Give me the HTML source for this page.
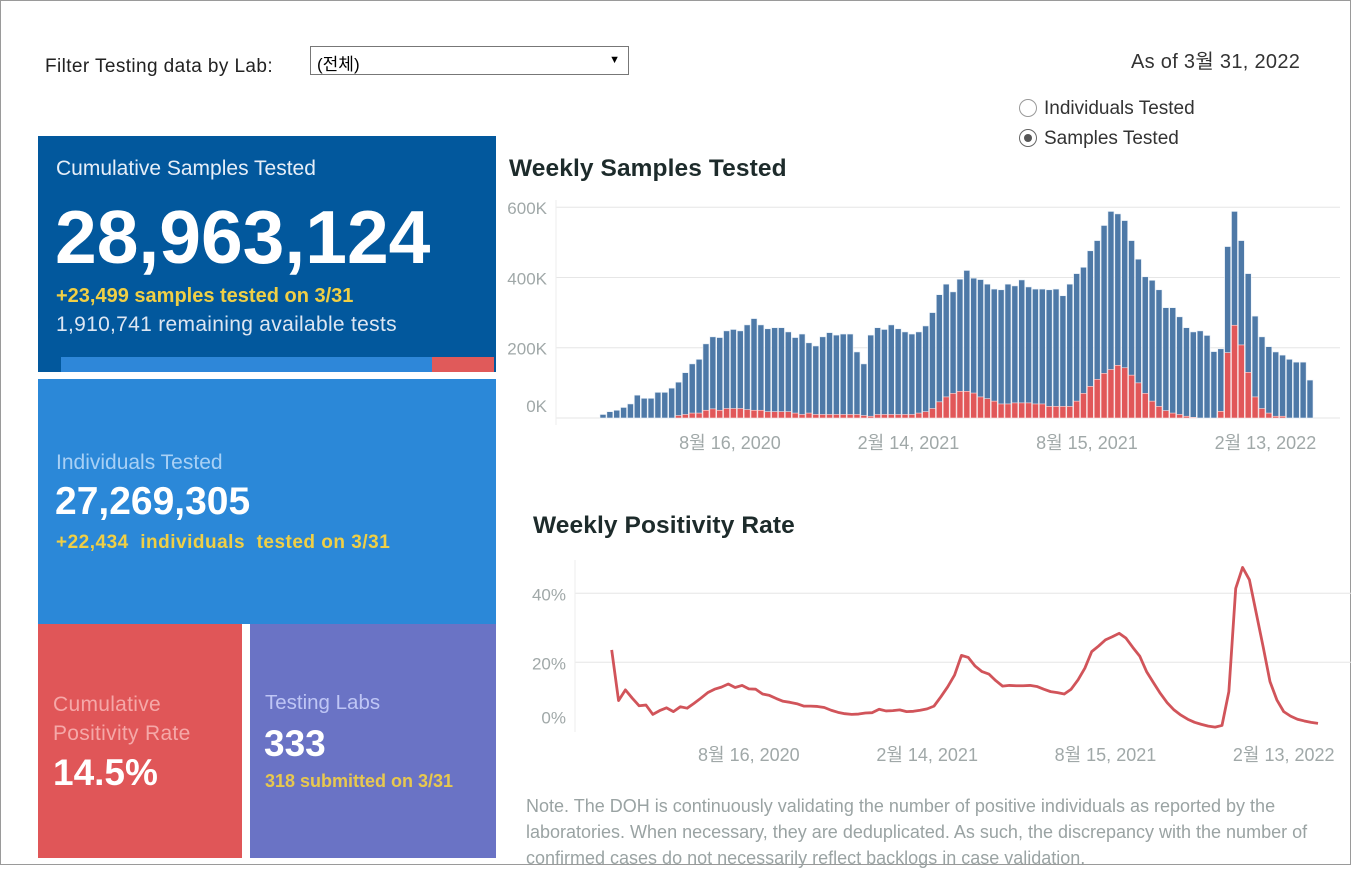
<!DOCTYPE html>
<html><head><meta charset="utf-8">
<style>
*{box-sizing:border-box;margin:0;padding:0}
body{width:1351px;height:865px;position:relative;background:#fff;font-family:"Liberation Sans","Noto Sans CJK KR",sans-serif;overflow:hidden}
#frame{position:absolute;left:0;top:0;width:1351px;height:865px;border:1px solid #9a9a9a}
.abs{position:absolute;white-space:nowrap}
.box{position:absolute}
</style></head><body>
<div id="frame"></div>
<div class="abs" style="left:45px;top:56px;font-size:19px;letter-spacing:0.4px;color:#222">Filter Testing data by Lab:</div>
<div class="abs" style="left:310px;top:46px;width:319px;height:29px;border:1px solid #777;font-size:17px;padding:3px 6px;color:#000">(전체)<span style="position:absolute;right:8px;top:7px;font-size:11px">▼</span></div>
<div class="abs" style="left:1131px;top:45px;font-size:20px;letter-spacing:0.3px;color:#333">As of 3월 31, 2022</div>
<div class="abs" style="left:1019px;top:98px;font-size:19px;color:#333"><span style="display:inline-block;width:18px;height:18px;border:1px solid #999;border-radius:50%;vertical-align:-3px;margin-right:7px"></span>Individuals Tested</div>
<div class="abs" style="left:1019px;top:128px;font-size:19px;color:#333"><span style="display:inline-block;width:18px;height:18px;border:1px solid #666;border-radius:50%;vertical-align:-3px;margin-right:7px;position:relative"><span style="position:absolute;left:4px;top:4px;width:8px;height:8px;border-radius:50%;background:#555"></span></span>Samples Tested</div>

<div class="box" style="left:38px;top:136px;width:458px;height:236px;background:#02589d">
 <div class="abs" style="left:18px;top:21px;font-size:21px;color:#e6eef8">Cumulative Samples Tested</div>
 <div class="abs" style="left:17px;top:58px;font-size:75px;font-weight:bold;color:#fff">28,963,124</div>
 <div class="abs" style="left:18px;top:149px;font-size:20px;font-weight:bold;color:#f0cf45">+23,499 samples tested on 3/31</div>
 <div class="abs" style="left:18px;top:177px;font-size:21px;letter-spacing:0.3px;color:#dde6f2">1,910,741 remaining available tests</div>
 <div class="abs" style="left:23px;top:221px;width:371px;height:15px;background:#2e87d9"></div>
 <div class="abs" style="left:394px;top:221px;width:62px;height:15px;background:#e05a5a"></div>
</div>
<div class="box" style="left:38px;top:379px;width:458px;height:245px;background:#2b88d8">
 <div class="abs" style="left:18px;top:72px;font-size:21px;color:#a8d0f5">Individuals Tested</div>
 <div class="abs" style="left:17px;top:101px;font-size:39px;font-weight:bold;color:#fff">27,269,305</div>
 <div class="abs" style="left:18px;top:153px;font-size:19px;letter-spacing:0.5px;font-weight:bold;color:#f0cf45">+22,434 &nbsp;individuals &nbsp;tested on 3/31</div>
</div>
<div class="box" style="left:38px;top:624px;width:204px;height:234px;background:#e05658">
 <div class="abs" style="left:15px;top:66px;font-size:21px;letter-spacing:0.3px;line-height:29px;color:#f5a8a8;white-space:normal;width:185px">Cumulative Positivity Rate</div>
 <div class="abs" style="left:15px;top:128px;font-size:37px;font-weight:bold;color:#fff">14.5%</div>
</div>
<div class="box" style="left:250px;top:624px;width:246px;height:234px;background:#6a73c5">
 <div class="abs" style="left:15px;top:67px;font-size:20.5px;color:#bfc6f5">Testing Labs</div>
 <div class="abs" style="left:14px;top:99px;font-size:37px;font-weight:bold;color:#fff">333</div>
 <div class="abs" style="left:15px;top:147px;font-size:18px;font-weight:bold;color:#e8c84e">318 submitted on 3/31</div>
</div>

<div class="abs" style="left:509px;top:155px;font-size:24.5px;letter-spacing:0.1px;font-weight:bold;color:#1d2b2b">Weekly Samples Tested</div>
<div class="abs" style="left:533px;top:512px;font-size:24.5px;letter-spacing:0.1px;font-weight:bold;color:#1d2b2b">Weekly Positivity Rate</div>
<div class="abs" style="left:526px;top:793px;font-size:18px;line-height:26px;color:#9aa3a3;white-space:normal;width:830px">Note. The DOH is continuously validating the number of positive individuals as reported by the laboratories. When necessary, they are deduplicated. As such, the discrepancy with the number of confirmed cases do not necessarily reflect backlogs in case validation.</div>

<svg id="chart" width="1351" height="865" style="position:absolute;left:0;top:0"></svg>
<script>
const totalSamples=[10,18,22,30,40,65,56,56,73,73,85,102,129,154,167,211,231,229,248,252,248,265,283,265,254,257,257,245,229,239,214,205,231,243,236,239,239,188,154,236,257,252,265,254,245,239,245,262,300,351,381,359,395,
420,398,394,381,367,365,381,376,393,373,367,367,365,367,348,381,411,429,476,505,548,588,581,562,505,452,402,392,365,314,314,288,257,245,248,235,189,197,488,588,505,411,290,231,203,188,179,167,159,159,108];
const positiveSamples=[0,0,0,0,0,0,0,0,0,0,0,7,10,14,14,22,26,22,27,27,27,24,22,22,18,18,18,18,14,10,14,10,10,10,10,10,10,10,7,5,10,10,10,10,10,10,14,18,27,46,60,70,76,
76,71,60,55,48,40,40,43,43,43,40,40,33,33,33,33,48,70,90,110,127,138,150,143,122,100,70,48,33,21,14,10,5,2,0,0,0,19,186,264,208,130,60,27,14,5,5,0,0,0,0];
const positivityRate=[23.6,8.9,12,9.6,7.4,7.6,4.9,6,6.8,5.7,7.1,6.7,8.1,9.6,11.2,12.2,12.8,13.7,12.7,13.3,12.3,12.2,10.8,10.4,9.5,8.7,8.4,8,7.3,7.3,7.2,6.9,6.1,5.5,5.1,4.9,5,5.3,5.4,6.4,5.9,6,6.2,5.7,5.8,6.1,6.5,7.3,10,12.9,16.3,22,21.4,18.9,17.3,16.6,14.7,13.1,13.3,13.2,13.2,13.3,13,12.2,11.5,11.2,10.8,12.2,14.9,18.3,23.1,24.7,26.5,27.4,28.4,27,24.3,21.8,17.3,14.1,11,8.3,6.2,4.7,3.5,2.6,2,1.5,1.2,1.7,11.5,41.4,47.5,43.9,34.2,24.5,14.4,9.1,5.7,4.4,3.5,3,2.6,2.3];
const sampleTicks=[0,200,400,600];
const sampleTickLabels=["0K","200K","400K","600K"];
const rateTicks=[0,20,40];
const rateTickLabels=["0%","20%","40%"];
const dateTickLabels=["8월 16, 2020","2월 14, 2021","8월 15, 2021","2월 13, 2022"];
const dateTickWeeks=[18.5,44.5,70.5,96.5];

const svg=document.getElementById('chart');
const NS='http://www.w3.org/2000/svg';
function mk(t,a){const e=document.createElementNS(NS,t);for(const k in a)e.setAttribute(k,a[k]);svg.appendChild(e);return e;}
const n=totalSamples.length;
const bx=i=>603+i*(707/(n-1));
const by=v=>418-v*0.3513;
const bw=6;
sampleTicks.forEach((t,k)=>{
  const g=mk('line',{x1:556,x2:1340,y1:by(t),y2:by(t),stroke:'#e6e6e6','stroke-width':1});
  
  
  const ty=t===0?by(t)-6:by(t)+7;
  const tx=mk('text',{x:547,y:ty,'text-anchor':'end','font-size':17,fill:'#a0a8a8','font-family':'Liberation Sans, sans-serif'});
  tx.textContent=sampleTickLabels[k];
  
  
});
mk('line',{x1:556,x2:556,y1:200,y2:425,stroke:'#eeeeee'});
totalSamples.forEach((v,i)=>{
  const r=mk('rect',{x:bx(i)-bw/2,y:by(v),width:bw,height:by(0)-by(v),fill:'#4e79a7',stroke:'#e8f0f8','stroke-width':0.6});
  
  
  const p=positiveSamples[i];
  if(p>0){
    const q=mk('rect',{x:bx(i)-bw/2,y:by(p),width:bw,height:by(0)-by(p),fill:'#e15759',stroke:'#fbe0e0','stroke-width':0.6});
    
    
  }
});
dateTickLabels.forEach((l,k)=>{
  const t=mk('text',{x:bx(dateTickWeeks[k]),y:449,'text-anchor':'middle','font-size':18,fill:'#a0a8a8','font-family':'Liberation Sans, Noto Sans CJK KR, sans-serif'});
  t.textContent=l;
  
  
});
const lx=i=>611.7+i*(706.3/(n-1));
const ly=v=>731.3-v*3.45;
rateTicks.forEach((t,k)=>{
  if(t>0){
    const g=mk('line',{x1:575,x2:1351,y1:ly(t),y2:ly(t),stroke:'#e6e6e6'});
    
    
  }
  const ty=t===0?ly(t)-8:ly(t)+7;
  const tx=mk('text',{x:566,y:ty,'text-anchor':'end','font-size':17,fill:'#a0a8a8','font-family':'Liberation Sans, sans-serif'});
  tx.textContent=rateTickLabels[k];
  
  
});
mk('line',{x1:575,x2:575,y1:560,y2:732,stroke:'#eeeeee'});
const pl=mk('polyline',{points:positivityRate.map((v,i)=>lx(i)+','+ly(v)).join(' '),fill:'none',stroke:'#d1545a','stroke-width':2.8,'stroke-linejoin':'round'});


const lineTickWeeks=[20,46,72,98];
dateTickLabels.forEach((l,k)=>{
  const t=mk('text',{x:lx(lineTickWeeks[k]),y:761,'text-anchor':'middle','font-size':18,fill:'#a0a8a8','font-family':'Liberation Sans, Noto Sans CJK KR, sans-serif'});
  t.textContent=l;
  
  
});
</script>
</body></html>
